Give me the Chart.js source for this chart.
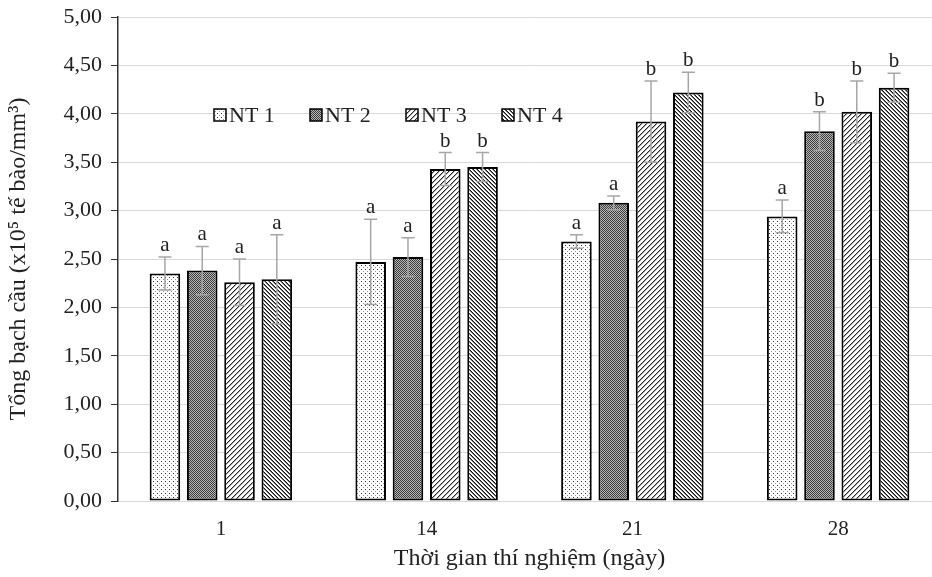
<!DOCTYPE html>
<html>
<head>
<meta charset="utf-8">
<script src="https://cdn.jsdelivr.net/npm/chart.js@4.4.1/dist/chart.umd.min.js"></script>
<style>
  html, body { margin: 0; padding: 0; background: #fff; overflow: hidden; }
  #wrap { width: 945px; height: 577px; }
</style>
</head>
<body>
<div id="wrap"><canvas id="wbc"></canvas></div>
<script>
// Tổng bạch cầu theo thời gian thí nghiệm
const days = ['1', '14', '21', '28'];
const groups = ['NT 1', 'NT 2', 'NT 3', 'NT 4'];

const nt1 = [2.35, 2.47, 2.68, 2.94];
const nt2 = [2.38, 2.52, 3.08, 3.82];
const nt3 = [2.26, 3.43, 3.92, 4.02];
const nt4 = [2.29, 3.45, 4.22, 4.27];

const err1 = [0.17, 0.44, 0.07, 0.17];
const err2 = [0.25, 0.20, 0.07, 0.20];
const err3 = [0.24, 0.17, 0.42, 0.32];
const err4 = [0.46, 0.15, 0.21, 0.15];

const sig1 = ['a', 'a', 'a', 'a'];
const sig2 = ['a', 'a', 'a', 'b'];
const sig3 = ['a', 'b', 'b', 'b'];
const sig4 = ['a', 'b', 'b', 'b'];

const yTicks = [0, 0.5, 1, 1.5, 2, 2.5, 3, 3.5, 4, 4.5, 5];

const FONT = 'Liberation Serif';

// motif de remplissage façon Excel (tuile pixel par pixel)
function tile(n, draw) {
  const c = document.createElement('canvas');
  c.width = n; c.height = n;
  const g = c.getContext('2d');
  g.fillStyle = '#fff';
  g.fillRect(0, 0, n, n);
  draw(g, n);
  return c.getContext('2d').createPattern(c, 'repeat');
}
const px = (g, x, y, col) => { g.fillStyle = col; g.fillRect(x, y, 1, 1); };

const patterns = [
  // points clairsemés
  tile(4, g => { px(g, 1, 1, '#333'); px(g, 3, 3, '#999'); }),
  // damier fin
  tile(2, g => { px(g, 0, 0, '#3a3a3a'); px(g, 1, 1, '#3a3a3a'); px(g, 1, 0, '#b8b8b8'); px(g, 0, 1, '#b8b8b8'); }),
  // diagonales /
  tile(5, (g, n) => { for (let i = 0; i < n; i++) { px(g, i, n - 1 - i, '#222'); px(g, i, (n - i) % n, '#aaa'); } }),
  // diagonales \
  tile(4, (g, n) => { for (let i = 0; i < n; i++) { px(g, i, i, '#111'); px(g, i, (i + 1) % n, '#777'); } }),
];

const values = [nt1, nt2, nt3, nt4];
const errors = [err1, err2, err3, err4];
const letters = [sig1, sig2, sig3, sig4];

const errorBars = {
  id: 'errorBars',
  afterDatasetsDraw(chart) {
    const { ctx, scales: { y } } = chart;
    ctx.save();
    chart.data.datasets.forEach((ds, di) => {
      chart.getDatasetMeta(di).data.forEach((bar, i) => {
        const v = ds.data[i], e = errors[di][i];
        const top = y.getPixelForValue(v + e);
        const bot = y.getPixelForValue(v - e);
        ctx.strokeStyle = '#a6a6a6';
        ctx.lineWidth = 1.5;
        ctx.beginPath();
        ctx.moveTo(bar.x, top); ctx.lineTo(bar.x, bot);
        ctx.moveTo(bar.x - 6.5, top); ctx.lineTo(bar.x + 6.5, top);
        ctx.moveTo(bar.x - 6.5, bot); ctx.lineTo(bar.x + 6.5, bot);
        ctx.stroke();
        ctx.fillStyle = '#222';
        ctx.font = `21px "${FONT}"`;
        ctx.textAlign = 'center';
        ctx.textBaseline = 'bottom';
        ctx.fillText(letters[di][i], bar.x, top - 1);
      });
    });
    ctx.restore();
  }
};

const insideLegend = {
  id: 'insideLegend',
  afterDraw(chart) {
    const { ctx, chartArea } = chart;
    const x0 = chartArea.left + 96, yc = 115, step = 96;
    ctx.save();
    ctx.font = `22px "${FONT}"`;
    ctx.textBaseline = 'middle';
    ctx.textAlign = 'left';
    groups.forEach((name, i) => {
      const x = x0 + i * step;
      ctx.fillStyle = patterns[i];
      ctx.fillRect(x, yc - 6, 12, 12);
      ctx.strokeStyle = '#000';
      ctx.lineWidth = 1.5;
      ctx.strokeRect(x, yc - 6, 12, 12);
      ctx.fillStyle = '#222';
      ctx.fillText(name, x + 15, yc + 1);
    });
    ctx.restore();
  }
};

new Chart(document.getElementById('wbc'), {
  type: 'bar',
  data: {
    labels: days,
    datasets: groups.map((g, i) => ({
      label: g,
      data: values[i],
      backgroundColor: patterns[i],
      borderColor: '#000',
      borderWidth: 2,
      borderSkipped: false,
      categoryPercentage: 0.725,
      barPercentage: 0.82,
    })),
  },
  options: {
    responsive: true,
    maintainAspectRatio: false,
    animation: false,
    layout: { padding: { top: 17, right: 4, left: 0, bottom: 0 } },
    plugins: { legend: { display: false }, tooltip: { enabled: false } },
    scales: {
      x: {
        grid: { display: false, drawTicks: false },
        border: { color: '#d9d9d9', width: 1 },
        ticks: { color: '#222', font: { family: FONT, size: 21 }, padding: 16 },
        title: {
          display: true,
          text: 'Thời gian thí nghiệm (ngày)',
          color: '#222',
          font: { family: FONT, size: 24 },
          padding: { top: 6 },
        },
        afterFit(s) { s.height = 76; },
      },
      y: {
        min: 0,
        max: 5,
        afterBuildTicks(s) { s.ticks = yTicks.map(v => ({ value: v })); },
        grid: { color: '#d9d9d9', tickColor: '#333', tickLength: 7 },
        border: { color: '#333', width: 1.5 },
        ticks: {
          color: '#222',
          font: { family: FONT, size: 22 },
          padding: 9,
          callback: v => v.toFixed(2).replace('.', ','),
        },
        title: {
          display: true,
          text: 'Tổng bạch cầu (x10⁵ tế bào/mm³)',
          color: '#222',
          font: { family: FONT, size: 24 },
          padding: { bottom: 4 },
        },
        afterFit(s) { s.width = 118; s.paddingTop = 0; s.paddingBottom = 0; },
      },
    },
  },
  plugins: [errorBars, insideLegend],
});
</script>
</body>
</html>
